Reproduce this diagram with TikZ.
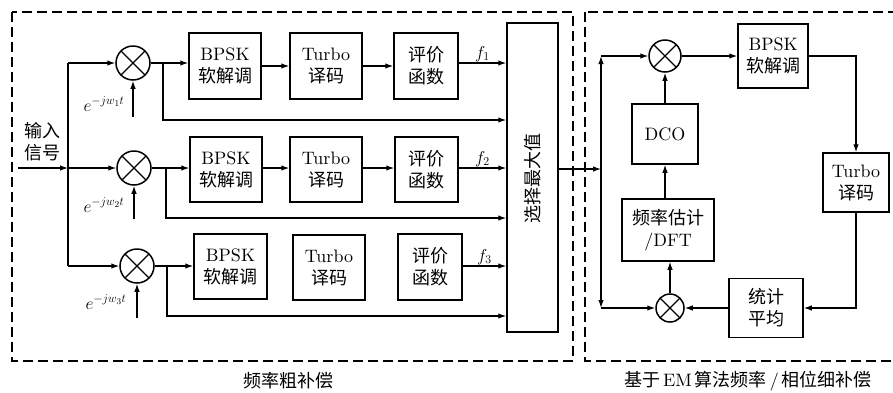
\documentclass[tikz,border=0pt]{standalone}
\usepackage{fontspec}
\setmainfont{lmroman10-regular.otf}
\newfontfamily\cjk{Noto Sans CJK SC}
\usetikzlibrary{arrows.meta}
\begin{document}
\begin{tikzpicture}[x=1pt,y=-1pt,
  every node/.style={font=\fontsize{18}{22}\selectfont},
  box/.style={draw, line width=1.5pt, rectangle, align=center, inner sep=0pt},
  mixer/.style={circle, draw, line width=1.5pt, inner sep=0pt,
    path picture={\draw[line width=1.3pt] (path picture bounding box.north west) -- (path picture bounding box.south east)
      (path picture bounding box.north east) -- (path picture bounding box.south west);}},
  ln/.style={line width=1.2pt},
  arr/.style={line width=1.2pt, -{Latex[length=8pt,width=5.5pt]}},
  frame/.style={line width=1.5pt, dash pattern=on 10pt off 5pt},
  txt/.style={inner sep=1pt},
  captxt/.style={inner sep=1pt, font=\fontsize{18}{22}\selectfont}]
\clip (0,0) rectangle (893,392);
% frames
\draw[frame] (12,12) rectangle (573,361);
\draw[frame] (585,12) rectangle (910,361);
% mixers
\node[mixer, minimum size=34pt] (M1) at (133,63) {};
\node[mixer, minimum size=34pt] (M2) at (134,168) {};
\node[mixer, minimum size=34pt] (M3) at (137,266) {};
\node[mixer, minimum size=32pt] (MR1) at (665,56) {};
\node[mixer, minimum size=28pt] (MR2) at (670,308) {};
% boxes row 1
\node[box, minimum width=72pt, minimum height=66pt] (B1) at (225,66) {BPSK\\{\cjk 软解调}};
\node[box, minimum width=72pt, minimum height=66pt] (T1) at (326,66) {Turbo\\{\cjk 译码}};
\node[box, minimum width=64pt, minimum height=66pt] (E1) at (426,66) {{\cjk 评价}\\{\cjk 函数}};
% row 2
\node[box, minimum width=72pt, minimum height=65pt] (B2) at (226,169.5) {BPSK\\{\cjk 软解调}};
\node[box, minimum width=72pt, minimum height=65pt] (T2) at (326,169.5) {Turbo\\{\cjk 译码}};
\node[box, minimum width=63pt, minimum height=65pt] (E2) at (426.5,169.5) {{\cjk 评价}\\{\cjk 函数}};
% row 3
\node[box, minimum width=73pt, minimum height=65pt] (B3) at (230.5,266.5) {BPSK\\{\cjk 软解调}};
\node[box, minimum width=72pt, minimum height=65pt] (T3) at (329,267.5) {Turbo\\{\cjk 译码}};
\node[box, minimum width=64pt, minimum height=66pt] (E3) at (430,267) {{\cjk 评价}\\{\cjk 函数}};
% select
\node[box, minimum width=51pt, minimum height=309pt] (Sel) at (532.5,177.5) {};
\node[txt, rotate=90] (SelT) at (532.5,178) {\cjk 选择最大值};
% right boxes
\node[box, minimum width=70pt, minimum height=64pt] (BR) at (773,56) {BPSK\\{\cjk 软解调}};
\node[box, minimum width=66pt, minimum height=59pt] (TR) at (856,182.5) {Turbo\\{\cjk 译码}};
\node[box, minimum width=66pt, minimum height=60pt] (DCO) at (665,134) {DCO};
\node[box, minimum width=92pt, minimum height=62pt] (FE) at (668,230) {{\cjk 频率估计}\\/DFT};
\node[box, minimum width=74pt, minimum height=59pt] (ST) at (766,308) {{\cjk 统计}\\{\cjk 平均}};
% input
\node[txt, align=center] (inL) at (42,142) {{\cjk 输入}\\{\cjk 信号}};
\coordinate (inS) at (18,168);
\coordinate (J) at (68,168);
\coordinate (Jt) at (68,63);
\coordinate (Jb) at (68,266);
\draw[arr] (inS) -- (J);
\draw[ln] (Jt) -- (Jb);
\draw[arr] (Jt) -- (M1);
\draw[arr] (J) -- (M2);
\draw[arr] (Jb) -- (M3);
% local oscillator inputs
\coordinate (e1) at (133,117);
\coordinate (e2) at (134,219);
\coordinate (e3) at (137,318);
\draw[arr] (e1) -- (M1);
\draw[arr] (e2) -- (M2);
\draw[arr] (e3) -- (M3);
\node[txt] (L1) at (104,104) {$e^{-jw_1t}$};
\node[txt] (L2) at (104,205) {$e^{-jw_2t}$};
\node[txt] (L3) at (106,302) {$e^{-jw_3t}$};
% row connections
\draw[arr] (M1) -- (B1.west |- M1);
\draw[arr] (B1) -- (T1);
\draw[arr] (T1) -- (E1);
\draw[arr] (E1.east |- M1) -- node[above, txt] (f1) {$f_1$} (Sel.west |- M1);
\draw[arr] (M2) -- (B2.west |- M2);
\draw[arr] (B2.east |- M2) -- (T2.west |- M2);
\draw[arr] (T2.east |- M2) -- (E2.west |- M2);
\draw[arr] (E2.east |- M2) -- node[above, txt] (f2) {$f_2$} (Sel.west |- M2);
\draw[arr] (M3) -- (B3.west |- M3);
\draw[arr] (E3.east |- M3) -- node[above, txt] (f3) {$f_3$} (Sel.west |- M3);
% bypass branches
\coordinate (b1) at (163,63);
\coordinate (b1y) at (0,120);
\coordinate (b2) at (166,168);
\coordinate (b2y) at (0,218);
\coordinate (b3) at (167,266);
\coordinate (b3y) at (0,316);
\draw[arr] (b1) |- (Sel.west |- b1y);
\draw[arr] (b2) |- (Sel.west |- b2y);
\draw[arr] (b3) |- (Sel.west |- b3y);
% right part
\coordinate (so) at (601,169);
\coordinate (rt) at (601,56);
\coordinate (rb) at (601,308);
\draw[arr] (Sel.east |- so) -- (so);
\draw[arr] (so) -- (rt);
\draw[arr] (rt) -- (MR1);
\draw[arr] (so) -- (rb);
\draw[arr] (rb) -- (MR2);
\draw[arr] (MR1) -- (BR);
\draw[arr] (BR.east) -| (TR.north);
\draw[arr] (TR.south) |- (ST.east);
\draw[arr] (ST) -- (MR2);
\draw[arr] (MR2.north) -- (MR2.north |- FE.south);
\draw[arr] (DCO.south |- FE.north) -- (DCO.south);
\draw[arr] (DCO.north) -- (MR1.south);
% captions
\node[captxt] (cap1) at (288,381) {\cjk 频率粗补偿};
\node[captxt] (cap2) at (748,381) {{\cjk 基于}\hspace{3pt}EM\hspace{3pt}{\cjk 算法频率}\hspace{3pt}/\hspace{3pt}{\cjk 相位细补偿}};
\end{tikzpicture}
\end{document}
